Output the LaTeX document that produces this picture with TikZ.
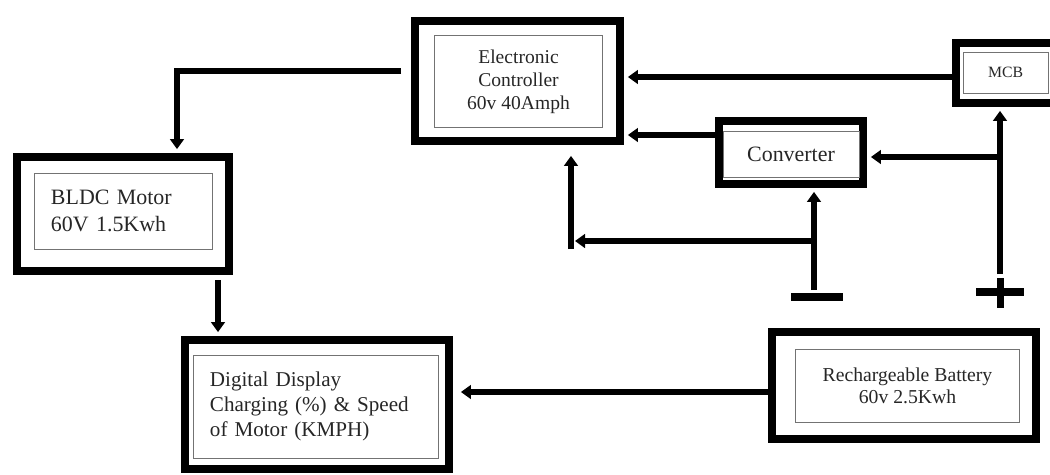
\documentclass[tikz,border=0pt]{standalone}
\usepackage{fontspec}
\setmainfont{Liberation Serif}
\usetikzlibrary{arrows.meta}
\begin{document}
\begin{tikzpicture}[x = 0.025cm, y = -0.025cm,
				outer/.style = {draw, line width = 5.5pt, inner sep = 0pt},
				inbox/.style = {draw = black!55, line width = 0.7pt, text = black!85, inner sep = 0pt, align = center},
				leftbox/.style = {inbox, align = left, inner xsep = 0.4cm},
				wire/.style = {line width = 4.8pt},
				conn/.style = {wire, -{Triangle[length = 0.25cm, width = 0.34cm]}, shorten > = 0.1cm},
				bar/.style = {line width = 5pt}]
				\useasboundingbox (0,0) rectangle (1050,474);
				\node (ctrl) at (517.5,81) [outer, minimum width = 5.125cm, minimum height = 3cm] {};
				\node (ctrlin) at (518.5,81.5) [inbox, minimum width = 4.175cm, minimum height = 2.275cm, font = \fontsize{13.9}{16.3}\selectfont] {Electronic\\Controller\\60v 40Amph};
				\node (mcb) at (1005,73) [outer, minimum width = 2.45cm, minimum height = 1.5cm] {};
				\node (mcbin) at (1005.5,72.5) [inbox, minimum width = 2.125cm, minimum height = 1.025cm, font = \fontsize{11.2}{13}\selectfont] {MCB};
				\node (conv) at (791,152.5) [outer, minimum width = 3.6cm, minimum height = 1.575cm] {};
				\node (convin) at (791,154) [inbox, minimum width = 3.4cm, minimum height = 1.15cm, font = \fontsize{15.6}{18}\selectfont] {Converter};
				\node (motor) at (123,214) [outer, minimum width = 5.3cm, minimum height = 2.85cm] {};
				\node (motorin) at (123.5,211) [leftbox, text width = 3.625cm, minimum height = 1.9cm, font = \fontsize{15.6}{19}\selectfont] {BLDC Motor\\60V 1.5Kwh};
				\node (disp) at (317,404.5) [outer, minimum width = 6.6cm, minimum height = 3.225cm] {};
				\node (dispin) at (316,406.5) [leftbox, text width = 5.3cm, minimum height = 2.575cm, font = \fontsize{15}{17.7}\selectfont] {Digital Display\\Charging (\%) \& Speed\\of Motor (KMPH)};
				\node (batt) at (904,385.5) [outer, minimum width = 6.6cm, minimum height = 2.675cm] {};
				\node (battin) at (907.5,385.5) [inbox, minimum width = 5.575cm, minimum height = 1.825cm, font = \fontsize{14}{15.6}\selectfont] {Rechargeable Battery\\60v 2.5Kwh};
				\coordinate (neg) at (817,297);
				\coordinate (pos) at (1000,292);
				\coordinate (negtop) at (814,290);
				\coordinate (postop) at (1000,274);
				\coordinate (jneg) at (814,241);
				\coordinate (jpos) at (1000,157);
				\coordinate (up) at (571,249);
				\coordinate (bend) at (177,71);
				\coordinate (m1) at (956,77);
				\coordinate (c1) at (719,135);
				\coordinate (md) at (218,280);
				\coordinate (bd) at (772,392);
				\draw[bar] (neg) ++(-26,0) -- ++(52,0);
				\draw[bar] (pos) ++(-24,0) -- ++(48,0);
				\draw[bar] (pos) ++(0,-14) -- ++(0,30);
				\draw[conn] (m1) -- (m1 -| ctrl.east);
				\draw[conn] (c1) -- (c1 -| ctrl.east);
				\draw[conn] (postop) -- (postop |- mcb.south);
				\draw[conn] (jpos) -- (jpos -| conv.east);
				\draw[conn] (negtop) -- (negtop |- conv.south);
				\draw[conn] (jneg) -- (up |- jneg);
				\draw[conn, shorten > = 0.275cm] (up) -- (up |- ctrl.south);
				\draw[conn, shorten < = 0.25cm] (ctrl.west |- bend) -- (bend) -- (bend |- motor.north);
				\draw[conn] (md) -- (md |- disp.north);
				\draw[conn, shorten > = 0.2cm] (bd) -- (bd -| disp.east);
				\end{tikzpicture}
\end{document}
